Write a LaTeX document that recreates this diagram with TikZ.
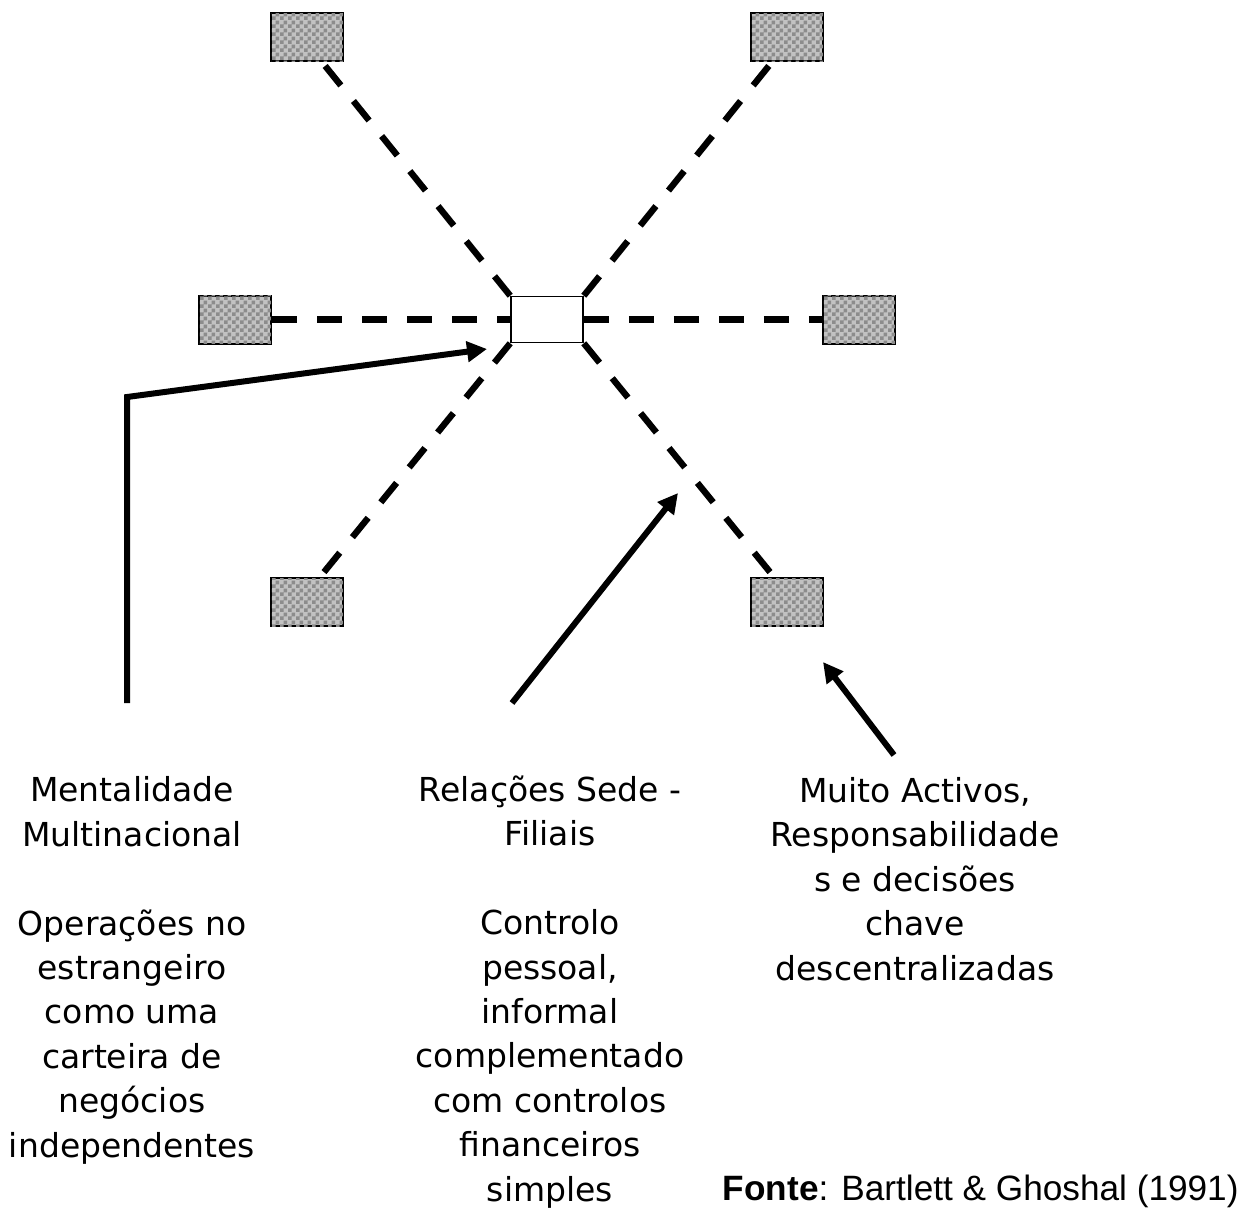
\documentclass[tikz,border=0pt]{standalone}
\usepackage{fontspec}
\newfontfamily\comicfont{DejaVu Sans}
\newfontfamily\arialfont{Liberation Sans}
\usetikzlibrary{arrows.meta,patterns}
\pgfdeclarepatternformonly{finechecker}{\pgfpointorigin}{\pgfqpoint{4pt}{4pt}}{\pgfqpoint{4pt}{4pt}}{%
  \pgfpathrectangle{\pgfpointorigin}{\pgfqpoint{2.02pt}{2.02pt}}%
  \pgfpathrectangle{\pgfqpoint{2pt}{2pt}}{\pgfqpoint{2.02pt}{2.02pt}}%
  \pgfusepath{fill}}
\begin{document}
\begin{tikzpicture}[x=0.5pt,y=-0.5pt,
  subbox/.style={draw=black,line width=1pt,fill=black!24,minimum width=36pt,minimum height=24pt,inner sep=0pt,
    postaction={pattern=finechecker,pattern color=black!45}},
  hubbox/.style={draw=black,line width=0.8pt,fill=white,minimum width=36pt,minimum height=23pt,inner sep=0pt},
  dline/.style={line width=3.2pt,dash pattern=on 12.5pt off 10pt},
  arr/.style={line width=3pt,-{Triangle[length=10pt,width=10pt]}},
  txt/.style={font=\comicfont\fontsize{16.5pt}{22.2pt}\selectfont,align=center,inner sep=0pt,anchor=base}]
\useasboundingbox (0,0) rectangle (1244,1212);
\node[subbox] (tl) at (307,37) {};
\node[subbox] (tr) at (787,37) {};
\node[subbox] (l) at (235,319.5) {};
\node[subbox] (r) at (859,319.5) {};
\node[subbox] (bl) at (307,602) {};
\node[subbox] (br) at (787,602) {};
\node[hubbox] (c) at (547,319.5) {};
\draw[dline] (c.north west) -- ([xshift=7.5pt]tl.south);
\draw[dline] (c.north east) -- ([xshift=-7.5pt]tr.south);
\draw[dline] (l.east) -- (c.west);
\draw[dline] (c.east) -- (r.west);
\draw[dline] (c.south west) -- ([xshift=6.5pt]bl.north);
\draw[dline] (c.south east) -- ([xshift=-6.5pt]br.north);
\coordinate (a1s) at (127,703);
\coordinate (a1c) at (127,397);
\coordinate (a1e) at (487,349);
\coordinate (a2s) at (512,703);
\coordinate (a2e) at (678,493);
\coordinate (a3s) at (894,755);
\coordinate (a3e) at (823,662);
\draw[arr] (a1s) -- (a1c) -- (a1e);
\draw[arr] (a2s) -- (a2e);
\draw[arr] (a3s) -- (a3e);
\node[txt] (t1) at (132,1157) {Mentalidade\\Multinacional\\[22.2pt]Operações no\\estrangeiro\\como uma\\carteira de\\negócios\\independentes};
\node[txt] (t2) at (550,1201) {Relações Sede -\\Filiais\\[22.2pt]Controlo\\pessoal,\\informal\\complementado\\com controlos\\financeiros\\simples};
\node[txt] (t3) at (915,980) {Muito Activos,\\Responsabilidade\\s e decisões\\chave\\descentralizadas};
\node[anchor=base east,inner sep=0pt,font=\arialfont\fontsize{17.6pt}{20pt}\selectfont] (src) at (1239,1200) {\textbf{Fonte}: Bartlett \& Ghoshal (1991)};
\end{tikzpicture}
\end{document}
